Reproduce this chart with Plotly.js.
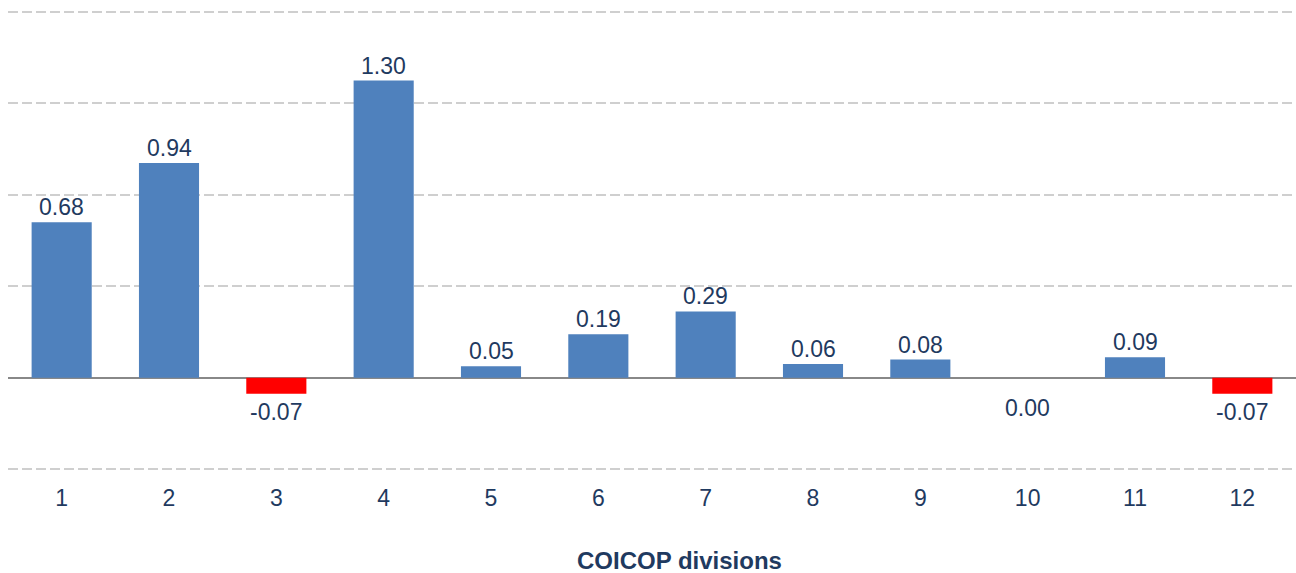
<!DOCTYPE html>
<html>
<head>
<meta charset="utf-8">
<script src="https://cdn.plot.ly/plotly-3.0.1.min.js"></script>
<style>html,body{margin:0;padding:0;background:#fff;}#chart{width:1296px;height:573px;}</style>
</head>
<body>
<div id="chart"></div>
<script>
const categories = ["1","2","3","4","5","6","7","8","9","10","11","12"];
const values = [0.68, 0.94, -0.07, 1.30, 0.05, 0.19, 0.29, 0.06, 0.08, 0.00, 0.09, -0.07];
const labels = ["0.68","0.94","-0.07","1.30","0.05","0.19","0.29","0.06","0.08","0.00","0.09","-0.07"];
const xTitle = "COICOP divisions";

const posColor = "#4f81bd";
const negColor = "#ff0000";
const textColor = "#1f3a60";
const fontFam = "Liberation Sans, Arial, sans-serif";

const trace = {
  type: "bar",
  x: categories,
  y: values,
  marker: { color: values.map(v => v < 0 ? negColor : posColor) },
  hoverinfo: "skip"
};

const annotations = values.map((v, i) => ({
  x: i,
  y: v,
  xref: "x", yref: "y",
  text: labels[i],
  showarrow: false,
  yanchor: v > 0 ? "bottom" : "top",
  yshift: v > 0 ? 0 : (v === 0 ? -15 : -3),
  font: { family: fontFam, size: 23, color: textColor }
}));

annotations.push({
  xref: "paper", yref: "paper",
  x: 0.5217, y: -0.169,
  xanchor: "center", yanchor: "middle",
  text: "<b>" + xTitle + "</b>",
  showarrow: false,
  font: { family: fontFam, size: 24, color: textColor }
});

const layout = {
  width: 1296, height: 573,
  margin: { l: 8, r: 0, t: 1, b: 93 },
  paper_bgcolor: "#ffffff",
  plot_bgcolor: "#ffffff",
  showlegend: false,
  bargap: 0.44,
  font: { family: fontFam, size: 23, color: textColor },
  xaxis: {
    type: "category",
    range: [-0.5, 11.5],
    showgrid: false,
    showline: false,
    ticks: "",
    ticklabelstandoff: 2,
    tickfont: { size: 23, color: textColor },
    automargin: false
  },
  yaxis: {
    range: [-0.447, 1.648],
    tick0: 0, dtick: 0.4,
    showticklabels: false,
    showgrid: true,
    gridcolor: "#cfcfcf",
    gridwidth: 2,
    griddash: "10px,4px",
    zeroline: true,
    zerolinecolor: "#888888",
    zerolinewidth: 2,
    showline: false,
    ticks: "",
    automargin: false
  },
  annotations: annotations
};

Plotly.newPlot("chart", [trace], layout, { displayModeBar: false, staticPlot: true });
</script>
</body>
</html>
